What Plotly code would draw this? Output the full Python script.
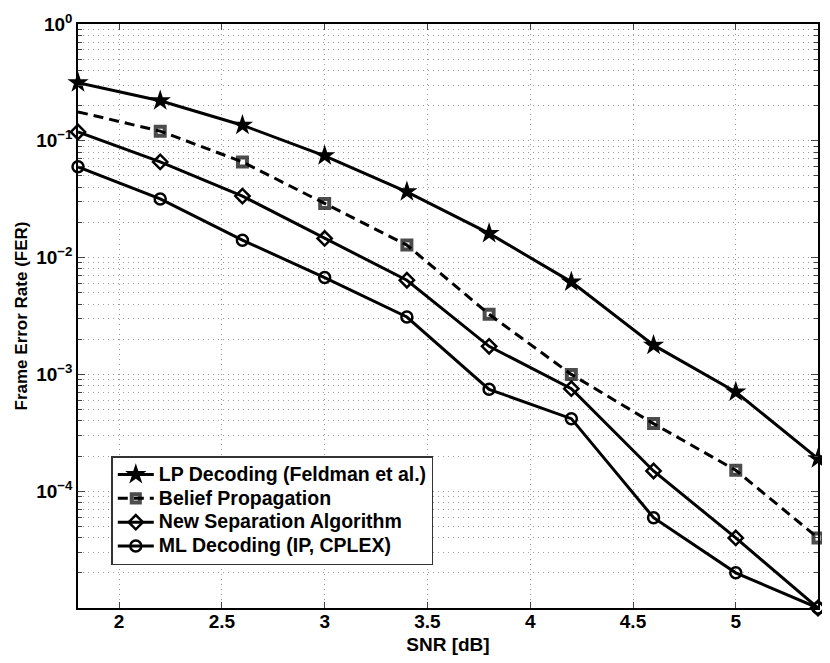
import plotly.graph_objects as go

# SNR points (dB)
snr = [1.8, 2.2, 2.6, 3.0, 3.4, 3.8, 4.2, 4.6, 5.0, 5.4]

# frame error rates
fer_lp = [0.314, 0.22, 0.136, 0.0744, 0.0366, 0.0161, 0.0062, 0.00178, 0.000707, 0.00019]
fer_bp = [0.177, 0.121, 0.066, 0.029, 0.0128, 0.00327, 0.001, 0.000379, 0.000151, 0.0000398]
fer_sep = [0.119, 0.066, 0.0336, 0.0146, 0.0064, 0.00174, 0.000755, 0.000149, 0.0000398, 0.00001]
fer_ml = [0.0599, 0.0318, 0.0141, 0.00675, 0.0031, 0.000745, 0.000418, 0.0000593, 0.00002, 0.00001]

series_names = ["LP Decoding (Feldman et al.)", "Belief Propagation",
                "New Separation Algorithm", "ML Decoding (IP, CPLEX)"]

y_tickvals = [1e-4, 1e-3, 1e-2, 1e-1, 1e0]
y_ticktext = ["10<sup>−4</sup>", "10<sup>−3</sup>", "10<sup>−2</sup>", "10<sup>−1</sup>", "10<sup>0</sup>"]
x_tickvals = [2, 2.5, 3, 3.5, 4, 4.5, 5]
x_ticktext = ["2", "2.5", "3", "3.5", "4", "4.5", "5"]

FONT = "Liberation Sans, Arial, Helvetica, sans-serif"
GRID = "#9a9a9a"
DOTS = "1px,4px"

# minor log ticks 2..9 in every decade
minor_vals = [m * 10.0 ** e for e in range(-5, 0) for m in range(2, 10)]


def big(s):
    # legend rows stay tight (base font 16) while the label itself is drawn larger
    return '<span style="font-size:19.5px">' + s + '</span>'


fig = go.Figure()

fig.add_trace(go.Scatter(
    x=snr, y=fer_lp, mode="lines+markers", name=big(series_names[0]),
    line=dict(color="black", width=3),
    marker=dict(symbol="star", size=16, color="black"),
    cliponaxis=False
))
fig.add_trace(go.Scatter(
    x=snr, y=fer_bp, mode="lines+markers", name=big(series_names[1]),
    line=dict(color="black", width=3, dash="10px,6px"),
    marker=dict(symbol="square-open", size=[0] + [9] * 9, color="black",
                line=dict(width=4, color="black")),
    cliponaxis=False
))
fig.add_trace(go.Scatter(
    x=snr, y=fer_sep, mode="lines+markers", name=big(series_names[2]),
    line=dict(color="black", width=3),
    marker=dict(symbol="diamond-open", size=11, color="black",
                line=dict(width=2.5, color="black")),
    cliponaxis=False
))
fig.add_trace(go.Scatter(
    x=snr, y=fer_ml, mode="lines+markers", name=big(series_names[3]),
    line=dict(color="black", width=3),
    marker=dict(symbol="circle-open", size=11, color="black",
                line=dict(width=2.5, color="black")),
    cliponaxis=False
))

# page body has an 8px margin, so the figure is 16px smaller than the window
fig.update_layout(
    width=814, height=647,
    paper_bgcolor="white", plot_bgcolor="white",
    margin=dict(l=70, r=4, t=16, b=47),
    font=dict(family=FONT, size=18, color="black"),
    showlegend=True,
    legend=dict(
        x=0.045, y=0.26, xanchor="left", yanchor="top",
        bgcolor="white", bordercolor="#333", borderwidth=1.5,
        font=dict(family=FONT, size=16, color="black", weight="bold"),
        tracegroupgap=0, itemwidth=36,
    ),
)

fig.update_xaxes(
    range=[1.8, 5.4], automargin=False,
    tickvals=x_tickvals, ticktext=x_ticktext,
    tickfont=dict(size=19, weight="bold"),
    ticks="inside", ticklen=6, tickcolor="#444",
    ticklabelstandoff=-5,
    showline=True, linecolor="black", linewidth=1.5, mirror="allticks",
    showgrid=True, gridcolor=GRID, griddash=DOTS, gridwidth=1,
    zeroline=False,
    title=dict(text="SNR [dB]", font=dict(size=19, weight="bold"), standoff=7),
)

fig.update_yaxes(
    type="log", range=[-5, 0], automargin=False,
    tickvals=y_tickvals, ticktext=y_ticktext,
    tickfont=dict(size=19, weight="bold"),
    ticks="inside", ticklen=7, tickcolor="#444",
    showline=True, linecolor="black", linewidth=1.5, mirror="allticks",
    showgrid=True, gridcolor=GRID, griddash=DOTS, gridwidth=1,
    zeroline=False,
    minor=dict(tickvals=minor_vals, ticks="inside", ticklen=4, tickcolor="#444",
               showgrid=True, gridcolor=GRID, griddash=DOTS, gridwidth=1),
    title=dict(text="Frame Error Rate (FER)", font=dict(size=17, weight="bold"), standoff=4),
)

fig.write_html("out.html")
